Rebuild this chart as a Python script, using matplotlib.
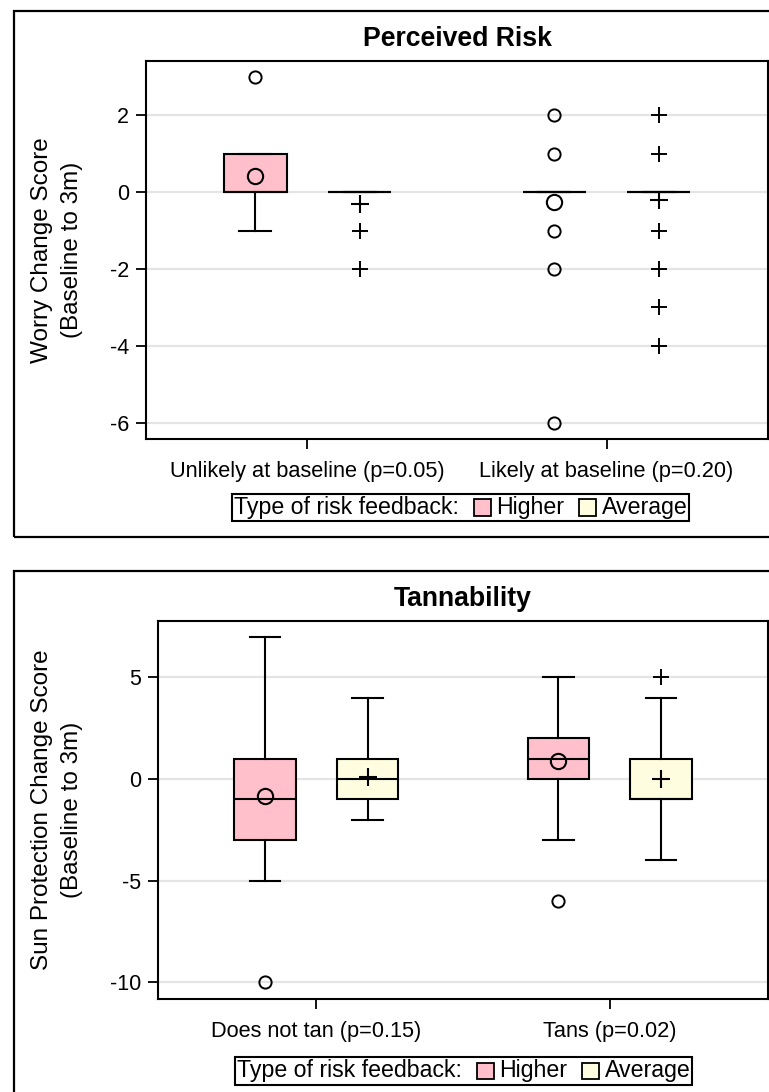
import matplotlib
matplotlib.use("Agg")
import matplotlib.pyplot as plt
from matplotlib.patches import Rectangle
from matplotlib.offsetbox import AnchoredOffsetbox, TextArea, DrawingArea, HPacker

plt.rcParams['font.family'] = ['Liberation Sans', 'DejaVu Sans']

# ---------------- data ----------------
groups = ["Higher", "Average"]
group_colors = ["#FFC0CB", "#FFFDE0"]
legend_title = "Type of risk feedback:"

# Panel 1: Perceived Risk
pr_title = "Perceived Risk"
pr_ylabel = "Worry Change Score\n(Baseline to 3m)"
pr_categories = ["Unlikely at baseline (p=0.05)", "Likely at baseline (p=0.20)"]
pr_yticks = [-6, -4, -2, 0, 2]
pr_ylim = (-6.42, 3.41)

pr_higher_q1 = [0, 0]
pr_higher_med = [0, 0]
pr_higher_q3 = [1, 0]
pr_higher_whislo = [-1, 0]
pr_higher_whishi = [1, 0]
pr_higher_mean = [0.42, -0.25]
pr_higher_fliers = [[3], [2, 1, -1, -2, -6]]

pr_avg_q1 = [0, 0]
pr_avg_med = [0, 0]
pr_avg_q3 = [0, 0]
pr_avg_whislo = [0, 0]
pr_avg_whishi = [0, 0]
pr_avg_mean = [-0.3, -0.2]
pr_avg_fliers = [[-1, -2], [2, 1, -1, -2, -3, -4]]

# Panel 2: Tannability
tan_title = "Tannability"
tan_ylabel = "Sun Protection Change Score\n(Baseline to 3m)"
tan_categories = ["Does not tan (p=0.15)", "Tans (p=0.02)"]
tan_yticks = [-10, -5, 0, 5]
tan_ylim = (-10.82, 7.77)

tan_higher_q1 = [-3, 0]
tan_higher_med = [-1, 1]
tan_higher_q3 = [1, 2]
tan_higher_whislo = [-5, -3]
tan_higher_whishi = [7, 5]
tan_higher_mean = [-0.84, 0.89]
tan_higher_fliers = [[-10], [-6]]

tan_avg_q1 = [-1, -1]
tan_avg_med = [0, -1]
tan_avg_q3 = [1, 1]
tan_avg_whislo = [-2, -4]
tan_avg_whishi = [4, 4]
tan_avg_mean = [0.11, 0.0]
tan_avg_fliers = [[], [5]]

# ---------------- layout helpers ----------------
W, H = 769, 1092
fig = plt.figure(figsize=(W / 100, H / 100), dpi=100)


def fx(x):
    return x / W


def fy(y):
    return 1 - y / H


def stats(q1, med, q3, lo, hi, mean, fliers):
    return [dict(q1=a, med=b, q3=c, whislo=d, whishi=e, mean=f, fliers=g)
            for a, b, c, d, e, f, g in zip(q1, med, q3, lo, hi, mean, fliers)]


OFFSET = 0.175
BOXW = 0.21
LW = 1.5


def draw_panel(ax_px, border_px, title, ylabel, ylabel_x, cats, yticks, ylim,
               higher, avg, legend_center):
    l, t, r, b = ax_px
    ax = fig.add_axes([fx(l), fy(b), fx(r) - fx(l), fy(t) - fy(b)])
    # outer border
    bl, bt, br, bb = border_px
    fig.add_artist(Rectangle((fx(bl), fy(bb)), fx(br) - fx(bl), fy(bt) - fy(bb),
                             transform=fig.transFigure, fill=False,
                             edgecolor='black', lw=1.6))
    ax.set_axisbelow(True)
    ax.yaxis.grid(True, color='#e4e4e4', lw=1.6)

    for gi, (st, col, mk) in enumerate(zip([higher, avg], group_colors, ['o', '+'])):
        pos = [i + (-OFFSET if gi == 0 else OFFSET) for i in range(len(cats))]
        msz_mean = 11 if mk == 'o' else 13
        msz_fl = 8.8 if mk == 'o' else 11
        ax.bxp(st, positions=pos, widths=BOXW, capwidths=BOXW / 2,
               patch_artist=True, showmeans=True, manage_ticks=False,
               boxprops=dict(facecolor=col, edgecolor='black', lw=LW),
               medianprops=dict(color='black', lw=LW),
               whiskerprops=dict(color='black', lw=LW),
               capprops=dict(color='black', lw=LW),
               meanprops=dict(marker=mk, markerfacecolor='none',
                              markeredgecolor='black', markersize=msz_mean,
                              markeredgewidth=1.5, linestyle='none'),
               flierprops=dict(marker=mk, markerfacecolor='none',
                               markeredgecolor='black', markersize=msz_fl,
                               markeredgewidth=1.4, linestyle='none'))

    ax.set_xlim(-0.54, 1.54)
    ax.set_ylim(*ylim)
    ax.set_xticks(range(len(cats)))
    ax.set_xticklabels(cats, fontsize=15.7)
    ax.set_yticks(yticks)
    ax.set_yticklabels([str(v) for v in yticks], fontsize=15.5)
    ax.tick_params(axis='x', direction='out', length=7.2, width=1.3, pad=9)
    ax.tick_params(axis='y', direction='out', length=7.2, width=1.3, pad=5)
    for s in ax.spines.values():
        s.set_linewidth(LW)
        s.set_color('black')

    cx = (l + r) / 2
    fig.text(fx(cx), fy(t - 22), title, ha='center', va='center',
             fontsize=19.2, fontweight='bold')
    fig.text(fx(ylabel_x), fy((t + b) / 2), ylabel, ha='center', va='center',
             rotation=90, fontsize=17.5, multialignment='center', linespacing=1.45)

    # legend
    items = [TextArea(legend_title, textprops=dict(fontsize=16.7))]
    for name, col in zip(groups, group_colors):
        da = DrawingArea(12, 12, 0, 0)
        da.add_artist(Rectangle((0, 0), 12, 12, facecolor=col,
                                edgecolor='black', lw=1.3))
        items.append(HPacker(children=[da, TextArea(name, textprops=dict(fontsize=16.7))],
                             align='center', pad=0, sep=4))
    pack = HPacker(children=items, align='center', pad=0, sep=11)
    ab = AnchoredOffsetbox(loc='center', child=pack, pad=0.15, borderpad=0,
                           frameon=True,
                           bbox_to_anchor=(fx(legend_center[0]), fy(legend_center[1])),
                           bbox_transform=fig.transFigure)
    ab.patch.set_edgecolor('black')
    ab.patch.set_linewidth(1.5)
    ab.patch.set_boxstyle('square', pad=0)
    fig.add_artist(ab)
    return ax


draw_panel((146, 61, 768, 439), (13.5, 11, 790, 537), pr_title, pr_ylabel, 57,
           pr_categories, pr_yticks, pr_ylim,
           stats(pr_higher_q1, pr_higher_med, pr_higher_q3, pr_higher_whislo,
                 pr_higher_whishi, pr_higher_mean, pr_higher_fliers),
           stats(pr_avg_q1, pr_avg_med, pr_avg_q3, pr_avg_whislo,
                 pr_avg_whishi, pr_avg_mean, pr_avg_fliers),
           (460.5, 507.5))

draw_panel((158, 621, 768, 999), (13.5, 571, 790, 1120), tan_title, tan_ylabel, 57,
           tan_categories, tan_yticks, tan_ylim,
           stats(tan_higher_q1, tan_higher_med, tan_higher_q3, tan_higher_whislo,
                 tan_higher_whishi, tan_higher_mean, tan_higher_fliers),
           stats(tan_avg_q1, tan_avg_med, tan_avg_q3, tan_avg_whislo,
                 tan_avg_whishi, tan_avg_mean, tan_avg_fliers),
           (463.5, 1071))

fig.savefig("out.png", dpi=100)
